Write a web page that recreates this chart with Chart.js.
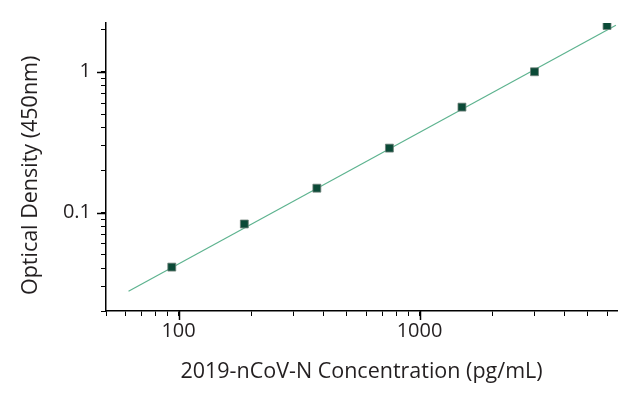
<!DOCTYPE html>
<html>
<head>
<meta charset="utf-8">
<script src="https://cdn.jsdelivr.net/npm/chart.js@4/dist/chart.umd.min.js"></script>
<style>
  html, body { margin: 0; padding: 0; background: #fff; }
  #wrap { width: 633px; height: 399px; position: relative; }
</style>
</head>
<body>
<div id="wrap"><canvas id="c"></canvas></div>
<script>
// ---- data ----
const concentrations = [93.75, 187.5, 375, 750, 1500, 3000, 6000];   // pg/mL
const opticalDensity = [0.041, 0.083, 0.149, 0.287, 0.561, 1.0, 2.13]; // OD 450nm
const fitX = [62, 6530];
const fitY = [0.0276, 2.14];
const xTickLabels = [100, 1000];
const yTickLabels = [0.1, 1];
const xRange = [50, 6600];
const yRange = [0.02, 2.22];
const xTitle = '2019-nCoV-N Concentration (pg/mL)';
const yTitle = 'Optical Density (450nm)\u00a0\u00a0\u00a0';

const FONT = "'Open Sans', 'DejaVu Sans', sans-serif";
const TEXT_COLOR = '#231f20';

function isNice(v) {
  if (!(v > 0)) return false;
  const s = v / Math.pow(10, Math.floor(Math.log10(v) + 1e-9));
  return Math.abs(s - Math.round(s)) < 1e-6;
}
function isLabelled(v, list) {
  return list.some(t => Math.abs(v - t) / t < 1e-6);
}

// longer major ticks + x tick labels placed through the library's scale
const majorTicks = {
  id: 'majorTicks',
  afterDraw(chart) {
    const ctx = chart.ctx;
    const xs = chart.scales.x, ys = chart.scales.y;
    ctx.save();
    ctx.strokeStyle = '#000';
    ctx.lineWidth = 1.5;
    xTickLabels.forEach(v => {
      const px = Math.round(xs.getPixelForValue(v)) + 0.5;
      ctx.beginPath();
      ctx.moveTo(px, xs.top);
      ctx.lineTo(px, xs.top + 9);
      ctx.stroke();
    });
    yTickLabels.forEach(v => {
      const py = Math.round(ys.getPixelForValue(v)) + 0.5;
      ctx.beginPath();
      ctx.moveTo(ys.right, py);
      ctx.lineTo(ys.right - 9, py);
      ctx.stroke();
    });
    ctx.fillStyle = TEXT_COLOR;
    ctx.font = '20px ' + FONT;
    ctx.textAlign = 'center';
    ctx.textBaseline = 'middle';
    xTickLabels.forEach(v => {
      ctx.fillText(String(v), xs.getPixelForValue(v), xs.top + 20);
    });
    ctx.restore();
  }
};

new Chart(document.getElementById('c'), {
  type: 'scatter',
  data: {
    datasets: [
      {
        label: 'fit',
        type: 'line',
        data: fitX.map((x, i) => ({ x, y: fitY[i] })),
        borderColor: '#5db38f',
        borderWidth: 1.2,
        pointRadius: 0,
        fill: false,
        order: 2
      },
      {
        label: 'OD',
        data: concentrations.map((x, i) => ({ x, y: opticalDensity[i] })),
        pointStyle: 'rect',
        pointRadius: 5.6,
        pointHoverRadius: 5.6,
        backgroundColor: '#0b4a37',
        borderColor: '#6f8078',
        borderWidth: 0.8,
        order: 1
      }
    ]
  },
  options: {
    responsive: true,
    maintainAspectRatio: false,
    animation: false,
    events: [],
    layout: { padding: { top: 23, right: 16, left: 0, bottom: 0 } },
    plugins: { legend: { display: false }, tooltip: { enabled: false } },
    scales: {
      x: {
        type: 'logarithmic',
        min: xRange[0],
        max: xRange[1],
        afterFit(s) { s.height = 88; },
        border: { display: true, color: '#000', width: 1.5 },
        grid: {
          drawOnChartArea: false,
          drawTicks: true,
          tickLength: 5,
          tickWidth: 1,
          tickColor: c => (c.tick && isNice(c.tick.value)) ? '#000' : 'rgba(0,0,0,0)'
        },
        ticks: {
          autoSkip: false,
          maxRotation: 0,
          padding: 3,
          color: TEXT_COLOR,
          font: { family: FONT, size: 20 },
          callback: () => ''
        },
        title: {
          display: true,
          text: xTitle,
          color: TEXT_COLOR,
          font: { family: FONT, size: 21.5 },
          padding: { top: 0, bottom: 14 }
        }
      },
      y: {
        type: 'logarithmic',
        min: yRange[0],
        max: yRange[1],
        afterFit(s) { s.width = 106; },
        border: { display: true, color: '#000', width: 1.5 },
        grid: {
          drawOnChartArea: false,
          drawTicks: true,
          tickLength: 5,
          tickWidth: 1,
          tickColor: c => (c.tick && isNice(c.tick.value)) ? '#000' : 'rgba(0,0,0,0)'
        },
        ticks: {
          autoSkip: false,
          padding: 10,
          color: TEXT_COLOR,
          font: { family: FONT, size: 20 },
          callback: v => isLabelled(v, yTickLabels) ? String(v) : ''
        },
        title: {
          display: true,
          text: yTitle,
          color: TEXT_COLOR,
          font: { family: FONT, size: 21.5 },
          padding: { top: 18, bottom: 0 }
        }
      }
    }
  },
  plugins: [majorTicks]
});
</script>
</body>
</html>
